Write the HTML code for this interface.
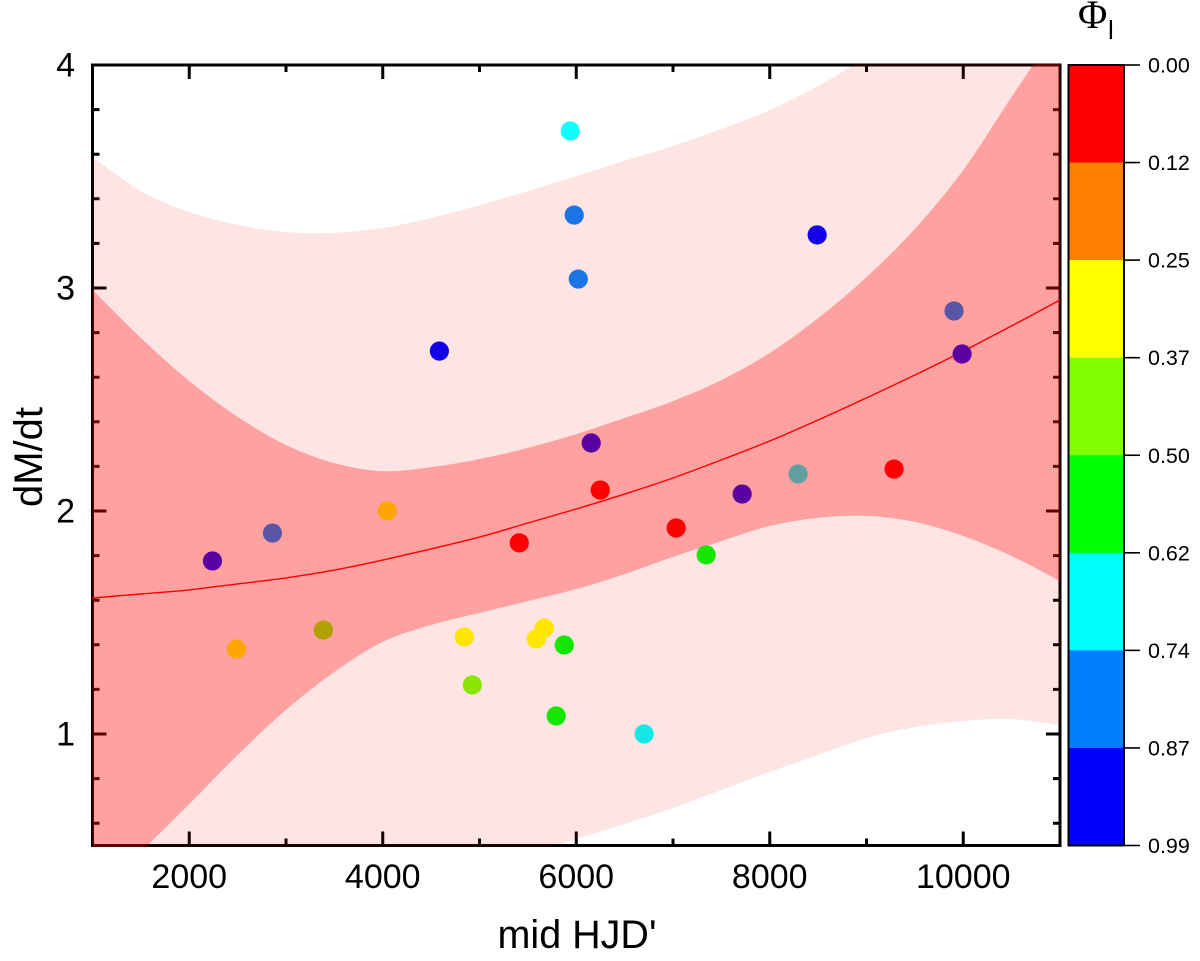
<!DOCTYPE html>
<html lang="en">
<head>
<meta charset="utf-8">
<title>dM/dt vs mid HJD'</title>
<style>
html,body{margin:0;padding:0;background:#fff;width:1200px;height:961px;overflow:hidden}
svg{display:block}
text{font-family:"Liberation Sans",sans-serif;fill:#000}
</style>
</head>
<body>
<svg id="chart" width="1200" height="961" viewBox="0 0 1200 961" xmlns="http://www.w3.org/2000/svg">
<defs>
<clipPath id="plot-clip"><rect x="91" y="64" width="971" height="783"/></clipPath>
</defs>
<g id="frame"></g>
<g id="bands" clip-path="url(#plot-clip)"></g>
<g id="marks"></g>
<g id="labels"></g>
<g id="colorbar"></g>
<text x="577" y="948" font-size="39.5" text-anchor="middle">mid HJD'</text>
<text transform="translate(42,457) rotate(-90)" font-size="40" text-anchor="middle">dM/dt</text>
<text x="1078" y="28" font-size="40" style="font-family:'Liberation Serif',serif">Φ</text>
<text x="1108" y="39" font-size="26">l</text>
</svg>
<script>
const xGrid = [1000,1500,2000,2500,3000,3500,4000,4500,5000,5500,6000,6500,7000,7500,8000,8500,9000,9500,10000,10500,11000];
const fitLine = [1.61,1.628,1.646,1.673,1.70,1.735,1.78,1.83,1.883,1.946,2.009,2.076,2.148,2.229,2.314,2.408,2.507,2.61,2.717,2.83,2.946];
const confUpper = [2.991,2.776,2.583,2.422,2.296,2.215,2.179,2.197,2.233,2.283,2.345,2.417,2.493,2.587,2.709,2.865,3.049,3.265,3.529,3.857,4.238];
const confLower = [0.256,0.471,0.686,0.906,1.108,1.278,1.413,1.489,1.543,1.596,1.65,1.717,1.794,1.865,1.933,1.969,1.978,1.951,1.888,1.798,1.686];
const predUpper = [3.587,3.435,3.341,3.283,3.251,3.247,3.269,3.314,3.372,3.435,3.502,3.57,3.637,3.713,3.798,3.906,4.036,4.184,4.345,4.525,4.726];
const predLower = [-1.09,-0.776,-0.507,-0.283,-0.103,0.031,0.143,0.233,0.336,0.453,0.529,0.596,0.668,0.749,0.83,0.906,0.982,1.031,1.058,1.067,1.04];
const pointX = [2240,2860,2488,3386,4047,4585,4843,4926,5411,5587,5669,5793,5876,5938,5979,6021,6155,6248,6702,7033,7343,7715,8293,8490,9285,9905,9988];
const pointY = [1.776,1.901,1.381,1.466,2.0,2.717,1.435,1.22,1.857,1.426,1.475,1.081,1.399,3.704,3.327,3.04,2.305,2.094,1.0,1.924,1.803,2.076,2.166,3.238,2.188,2.897,2.704];
const pointColor = ['#5a00a0','#5b55a5','#ffa500','#b0a000','#ffa500','#1400e6','#ffe600','#8ae600','#ff0000','#ffe600','#ffe600','#15e600','#15e600','#10ffff','#1a74e6','#1a74e6','#5a00a0','#ff0000','#15e6e6','#ff0000','#15e600','#5a00a0','#60a0a0','#1400e6','#ff0000','#5b55a5','#5a00a0'];
const xTickValues = [2000,4000,6000,8000,10000];
const xMinorValues = [3000,5000,7000,9000];
const yTickValues = [1,2,3,4];
const yMinorValues = [0.6,0.8,1.2,1.4,1.6,1.8,2.2,2.4,2.6,2.8,3.2,3.4,3.6,3.8];
const barLabels = ['0.00','0.12','0.25','0.37','0.50','0.62','0.74','0.87','0.99'];
const barColors = ['#ff0000','#ff8000','#ffff00','#80ff00','#00ff00','#00ffff','#0080ff','#0000ff'];

const NS = 'http://www.w3.org/2000/svg';
const PX0 = 92.5, PX1 = 1060, PY0 = 845.5, PY1 = 65;
const sx = v => PX0 + (v - 1000) * (PX1 - PX0) / 10000;
const sy = v => PY0 - (v - 0.5) * (PY0 - PY1) / 3.5;
function mk(tag, attrs, parent, txt) {
  const el = document.createElementNS(NS, tag);
  for (const k in attrs) el.setAttribute(k, attrs[k]);
  if (txt !== undefined) el.textContent = txt;
  parent.appendChild(el);
  return el;
}
function smooth(p, start) {
  let d = (start ? 'M' : 'L') + p[0][0].toFixed(1) + ' ' + p[0][1].toFixed(1);
  for (let i = 0; i < p.length - 1; i++) {
    const a = p[Math.max(i - 1, 0)], b = p[i], c = p[i + 1], e = p[Math.min(i + 2, p.length - 1)];
    d += 'C' + (b[0] + (c[0] - a[0]) / 6).toFixed(1) + ' ' + (b[1] + (c[1] - a[1]) / 6).toFixed(1) + ' ' +
      (c[0] - (e[0] - b[0]) / 6).toFixed(1) + ' ' + (c[1] - (e[1] - b[1]) / 6).toFixed(1) + ' ' +
      c[0].toFixed(1) + ' ' + c[1].toFixed(1);
  }
  return d;
}
const clampY = y => Math.max(25, Math.min(900, y));
const curve = vals => xGrid.map((x, i) => [sx(x), clampY(sy(vals[i]))]);
const bandPath = (up, lo) => smooth(curve(up), true) + smooth(curve(lo).reverse(), false) + 'Z';

const frame = document.getElementById('frame');
const border = mk('rect', {x: PX0, y: PY1, width: PX1 - PX0, height: PY0 - PY1, fill: 'none', stroke: '#000', 'stroke-width': 3}, frame);


function xTick(v, len, name) {
  const x = sx(v);
  const t = mk('path', {d: `M${x} ${PY0}V${PY0 - len}M${x} ${PY1}V${PY1 + len}`, stroke: '#000', 'stroke-width': 3, fill: 'none'}, frame);
  
  
}
function yTick(v, len, name) {
  const y = sy(v);
  const t = mk('path', {d: `M${PX0} ${y}H${PX0 + len}M${PX1} ${y}H${PX1 - len}`, stroke: '#000', 'stroke-width': 3, fill: 'none'}, frame);
  
  
}
xTickValues.forEach(v => xTick(v, 14, 'x-major-tick'));
xMinorValues.forEach(v => xTick(v, 7, 'x-minor-tick'));
yTickValues.forEach(v => yTick(v, 14, 'y-major-tick'));
yMinorValues.forEach(v => yTick(v, 7, 'y-minor-tick'));

const bands = document.getElementById('bands');
const outer = mk('path', {d: bandPath(predUpper, predLower), fill: '#ff0000', 'fill-opacity': 0.105}, bands);


const inner = mk('path', {d: bandPath(confUpper, confLower), fill: '#ff0000', 'fill-opacity': 0.295}, bands);


const fit = mk('path', {d: smooth(curve(fitLine), true), fill: 'none', stroke: '#ff0000', 'stroke-width': 1.4}, bands);



const marks = document.getElementById('marks');
pointX.forEach((x, i) => {
  const c = mk('circle', {cx: sx(x), cy: sy(pointY[i]), r: 9.6, fill: pointColor[i]}, marks);
  
  
});

const labels = document.getElementById('labels');
xTickValues.forEach(v => {
  const t = mk('text', {x: sx(v), y: 888, 'font-size': 34, 'text-anchor': 'middle'}, labels, String(v));
  
  
});
yTickValues.forEach(v => {
  const t = mk('text', {x: 75, y: sy(v) + 11.5, 'font-size': 34, 'text-anchor': 'end'}, labels, String(v));
  
  
});

const bar = document.getElementById('colorbar');
const BX0 = 1068.5, BX1 = 1124, step = (PY0 - PY1) / barColors.length;
barColors.forEach((c, i) => {
  const r = mk('rect', {x: BX0, y: PY1 + i * step, width: BX1 - BX0, height: step + 0.2, fill: c}, bar);
  
  
});
const barBorder = mk('rect', {x: BX0, y: PY1, width: BX1 - BX0, height: PY0 - PY1, fill: 'none', stroke: '#000', 'stroke-width': 2}, bar);


barLabels.forEach((s, i) => {
  const y = PY1 + i * step;
  const k = mk('line', {x1: BX1, x2: 1140, y1: y, y2: y, stroke: '#000', 'stroke-width': 1.6}, bar);
  
  
  const t = mk('text', {x: 1148, y: y + 7.5, 'font-size': 21.5}, bar, s);
  
  
});
</script>
</body>
</html>
